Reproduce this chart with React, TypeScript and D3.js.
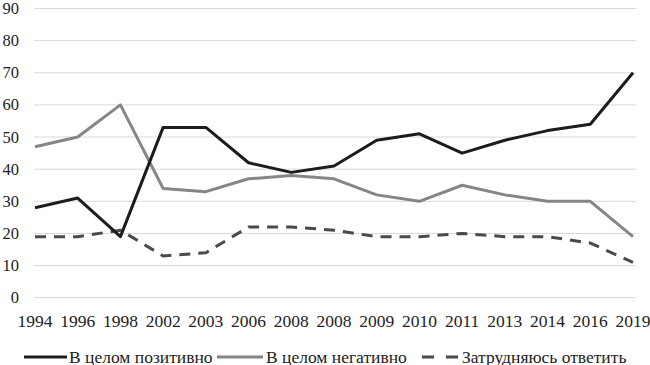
import React from "react";
import * as d3 from "d3";

const years = ["1994", "1996", "1998", "2002", "2003", "2006", "2008", "2008", "2009", "2010", "2011", "2013", "2014", "2016", "2019"];
const positive = [28, 31, 19, 53, 53, 42, 39, 41, 49, 51, 45, 49, 52, 54, 70];
const negative = [47, 50, 60, 34, 33, 37, 38, 37, 32, 30, 35, 32, 30, 30, 19];
const unsure = [19, 19, 21, 13, 14, 22, 22, 21, 19, 19, 20, 19, 19, 17, 11];
const yTicks = [0, 10, 20, 30, 40, 50, 60, 70, 80, 90];

const series = [
  { name: "В целом позитивно", values: positive, color: "#1c1c1c", dash: undefined as string | undefined },
  { name: "В целом негативно", values: negative, color: "#868686", dash: undefined as string | undefined },
  { name: "Затрудняюсь ответить", values: unsure, color: "#4a4a4a", dash: "11,8" },
];

const font = "Liberation Serif";

const App = () => {
  const width = 650;
  const height = 365;

  const idx = years.map((_, i) => String(i));
  const x = d3.scalePoint<string>().domain(idx).range([35, 633]).padding(0);
  const y = d3.scaleLinear().domain([0, 90]).range([297.7, 8.5]);

  const line = d3
    .line<number>()
    .x((_, i) => x(String(i))!)
    .y((d) => y(d))
    .curve(d3.curveLinear);

  const legendItems = [
    { ...series[0], x1: 24, x2: 67, tx: 69 },
    { ...series[1], x1: 217, x2: 263, tx: 266 },
    { ...series[2], x1: 422, x2: 458, tx: 462 },
  ];

  return (
    <svg width={width} height={height} style={{ position: "absolute", left: 0, top: 0, display: "block" }}>
      {/* grid */}
      <g>
        {yTicks.map((t) => (
          <line key={t} x1={34} x2={636} y1={y(t)} y2={y(t)} stroke="#d9d9d9" strokeWidth={1} />
        ))}
      </g>
      {/* y labels */}
      <g>
        {yTicks.map((t) => (
          <text key={t} x={19} y={y(t) + 5.5} textAnchor="end" fill="#222" style={{ fontFamily: font, fontSize: 16.5 }}>
            {t}
          </text>
        ))}
      </g>
      {/* x labels */}
      <g>
        {years.map((yr, i) => (
          <text key={i} x={x(String(i))} y={327} textAnchor="middle" fill="#222" style={{ fontFamily: font, fontSize: 17.5 }}>
            {yr}
          </text>
        ))}
      </g>
      {/* lines: dashed, gray, black on top */}
      {[series[2], series[1], series[0]].map((s) => (
        <path
          key={s.name}
          d={line(s.values) ?? ""}
          fill="none"
          stroke={s.color}
          strokeWidth={3}
          strokeLinejoin="round"
          strokeDasharray={s.dash}
        />
      ))}
      {/* legend */}
      <g>
        {legendItems.map((s) => (
          <g key={s.name}>
            <line x1={s.x1} x2={s.x2} y1={357} y2={357} stroke={s.color} strokeWidth={3} strokeDasharray={s.dash ? "12,12" : undefined} />
            <text x={s.tx} y={362.5} fill="#222" style={{ fontFamily: font, fontSize: 17.5 }}>
              {s.name}
            </text>
          </g>
        ))}
      </g>
    </svg>
  );
};

export default App;
